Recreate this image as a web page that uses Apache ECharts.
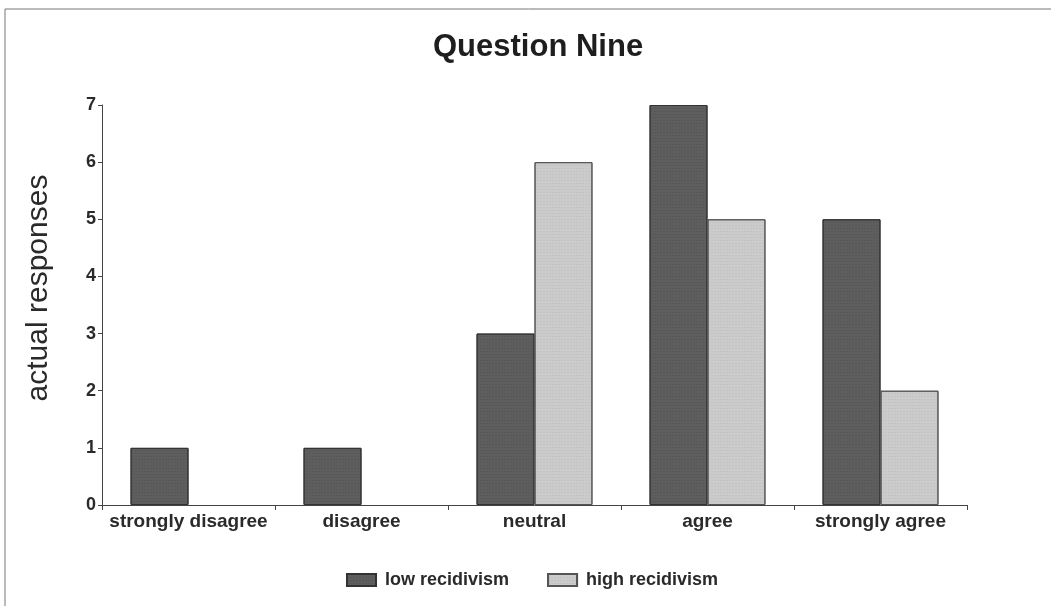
<!DOCTYPE html>
<html>
<head>
<meta charset="utf-8">
<script src="https://cdn.jsdelivr.net/npm/echarts@6/dist/echarts.min.js"></script>
<style>
  html, body { margin: 0; padding: 0; background: #fff; }
  #chart { width: 1051px; height: 606px; }
</style>
</head>
<body>
<div id="chart"></div>
<script>
const categories = ['strongly disagree', 'disagree', 'neutral', 'agree', 'strongly agree']
const lowRecidivism = [1, 1, 3, 7, 5]
const highRecidivism = [0, 0, 6, 5, 2]
const yTicks = [0, 1, 2, 3, 4, 5, 6, 7]

const font = 'Liberation Sans, Arial, sans-serif'
const myChart = echarts.init(document.getElementById('chart'))

// zero values have no visible bar in the original
const hideZero = (arr) => arr.map((v) => (v === 0 ? '-' : v))

const option = {
  backgroundColor: '#fff',
  animation: false,
  title: {
    text: 'Question Nine',
    left: 428,
    top: 27,
    textStyle: { fontFamily: font, fontSize: 31, fontWeight: 'bold', color: '#1e1e1e' },
  },
  graphic: [{
    type: 'rect',
    shape: { x: 5, y: 9, width: 1050, height: 600 },
    style: { fill: 'none', stroke: '#777', lineWidth: 1 },
    silent: true,
  }],
  legend: {
    top: 566,
    left: 341,
    icon: 'rect',
    itemWidth: 29,
    itemHeight: 12,
    itemGap: 38,
    textStyle: { fontFamily: font, fontSize: 18, fontWeight: 'bold', color: '#2a2a2a', padding: [0, 0, 0, 4] },
    data: ['low recidivism', 'high recidivism'],
  },
  grid: { left: 102, right: 84, top: 105, bottom: 101 },
  xAxis: {
    type: 'category',
    data: categories,
    axisLine: { lineStyle: { color: '#444' } },
    axisTick: { show: true, interval: 0, length: 5, lineStyle: { color: '#444' } },
    axisLabel: { interval: 0, fontFamily: font, fontSize: 19, fontWeight: 'bold', color: '#2a2a2a', margin: 7 },
  },
  yAxis: {
    type: 'value',
    min: yTicks[0],
    max: yTicks[yTicks.length - 1],
    interval: 1,
    name: 'actual responses',
    nameLocation: 'middle',
    nameGap: 48,
    nameTextStyle: { fontFamily: font, fontSize: 30, color: '#2a2a2a', padding: [0, 0, 0, 34] },
    axisLine: { show: true, lineStyle: { color: '#444' } },
    axisTick: { show: true, length: 4, lineStyle: { color: '#444' } },
    axisLabel: { fontFamily: font, fontSize: 18, fontWeight: 'bold', color: '#2a2a2a', margin: 6 },
    splitLine: { show: false },
  },
  series: [
    {
      name: 'low recidivism',
      type: 'bar',
      data: hideZero(lowRecidivism),
      barGap: '0%',
      barCategoryGap: '33%',
      itemStyle: {
        color: '#5e5e5e',
        borderColor: '#333',
        borderWidth: 1,
        decal: { symbol: 'rect', symbolSize: 0.5, dashArrayX: [2, 1], dashArrayY: [1, 2], color: 'rgba(40,40,40,0.5)', rotation: 0 },
      },
    },
    {
      name: 'high recidivism',
      type: 'bar',
      data: hideZero(highRecidivism),
      itemStyle: {
        color: '#cbcbcb',
        borderColor: '#555',
        borderWidth: 1,
        decal: { symbol: 'rect', symbolSize: 0.5, dashArrayX: [2, 1], dashArrayY: [1, 2], color: 'rgba(120,120,120,0.4)', rotation: 0 },
      },
    },
  ],
}

myChart.setOption(option)
</script>
</body>
</html>
